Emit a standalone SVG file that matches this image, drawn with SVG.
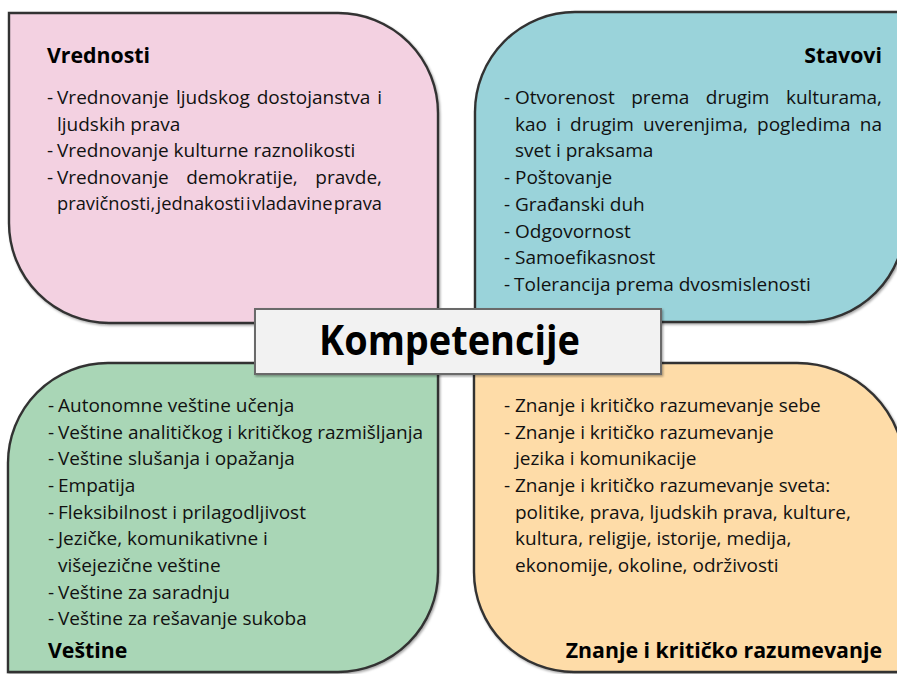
<svg xmlns="http://www.w3.org/2000/svg" width="897" height="674" viewBox="0 0 897 674">
<defs>
<filter id="sh" x="-5%" y="-5%" width="110%" height="110%">
<feDropShadow dx="1.2" dy="1.5" stdDeviation="1" flood-color="#000" flood-opacity="0.35"/>
</filter>
<style>
.box{stroke:#333;stroke-width:2.4;filter:url(#sh)}
.t{font-family:"Open Sans","Noto Sans","DejaVu Sans",sans-serif;font-size:19px;fill:#111}
.h{font-family:"Open Sans","Noto Sans","DejaVu Sans",sans-serif;font-size:21.3px;font-weight:bold;fill:#000}
.r{text-anchor:end}
</style>
</defs>
<rect width="897" height="674" fill="#fff"/>

<g id="node-vrednosti">
<path class="box" fill="#f3d1e1" d="M9 13 H338 A100 100 0 0 1 438 113 V323 H109 A100 100 0 0 1 9 223 Z"/>
<text class="h" x="47" y="63">Vrednosti</text>
<text class="t" x="47" y="104">-</text><text class="t" x="57" y="104" word-spacing="2" textLength="325">Vrednovanje ljudskog dostojanstva i</text>
<text class="t" x="57" y="130.5">ljudskih prava</text>
<text class="t" x="47" y="157">-</text><text class="t" x="57" y="157">Vrednovanje kulturne raznolikosti</text>
<text class="t" x="47" y="183.5">-</text><text class="t" x="57" y="183.5" word-spacing="12.7" textLength="325">Vrednovanje demokratije, pravde,</text>
<text class="t" x="57" y="210" textLength="325" lengthAdjust="spacingAndGlyphs" word-spacing="-3.5">pravičnosti, jednakosti i vladavine prava</text>
</g>

<g id="node-stavovi">
<path class="box" fill="#9ad3da" d="M475 322 V112 A100 100 0 0 1 575 12 H905 V222 A100 100 0 0 1 805 322 Z"/>
<text class="h r" x="882" y="63">Stavovi</text>
<text class="t" x="504" y="104">-</text><text class="t" x="515" y="104" word-spacing="11.6" textLength="367">Otvorenost prema drugim kulturama,</text>
<text class="t" x="515" y="131" word-spacing="4.1" textLength="367">kao i drugim uverenjima, pogledima na</text>
<text class="t" x="515" y="157">svet i praksama</text>
<text class="t" x="504" y="184">-</text><text class="t" x="515" y="184">Poštovanje</text>
<text class="t" x="504" y="211">-</text><text class="t" x="515" y="211">Građanski duh</text>
<text class="t" x="504" y="238">-</text><text class="t" x="515" y="238">Odgovornost</text>
<text class="t" x="504" y="264">-</text><text class="t" x="515" y="264">Samoefikasnost</text>
<text class="t" x="504" y="291">-</text><text class="t" x="514" y="291">Tolerancija prema dvosmislenosti</text>
</g>

<g id="node-vestine">
<path class="box" fill="#a9d6b6" d="M8 672 V463 A100 100 0 0 1 108 363 H438 V572 A100 100 0 0 1 338 672 Z"/>
<text class="t" x="48" y="412">-</text><text class="t" x="58" y="412">Autonomne veštine učenja</text>
<text class="t" x="48" y="438.5">-</text><text class="t" x="58" y="438.5">Veštine analitičkog i kritičkog razmišljanja</text>
<text class="t" x="48" y="465">-</text><text class="t" x="58" y="465">Veštine slušanja i opažanja</text>
<text class="t" x="48" y="492">-</text><text class="t" x="58" y="492">Empatija</text>
<text class="t" x="48" y="518.5">-</text><text class="t" x="58" y="518.5">Fleksibilnost i prilagodljivost</text>
<text class="t" x="48" y="545">-</text><text class="t" x="58" y="545">Jezičke, komunikativne i</text>
<text class="t" x="58" y="572">višejezične veštine</text>
<text class="t" x="48" y="598.5">-</text><text class="t" x="58" y="598.5">Veštine za saradnju</text>
<text class="t" x="48" y="625">-</text><text class="t" x="58" y="625">Veštine za rešavanje sukoba</text>
<text class="h" x="48" y="658">Veštine</text>
</g>

<g id="node-znanje">
<path class="box" fill="#fedca8" d="M474 363 H797 A108 108 0 0 1 905 471 V672 H574 A100 100 0 0 1 474 572 Z"/>
<text class="t" x="504" y="412">-</text><text class="t" x="515" y="412">Znanje i kritičko razumevanje sebe</text>
<text class="t" x="504" y="438.5">-</text><text class="t" x="515" y="438.5">Znanje i kritičko razumevanje</text>
<text class="t" x="515" y="465">jezika i komunikacije</text>
<text class="t" x="504" y="492">-</text><text class="t" x="515" y="492">Znanje i kritičko razumevanje sveta:</text>
<text class="t" x="515" y="518.5">politike, prava, ljudskih prava, kulture,</text>
<text class="t" x="515" y="545">kultura, religije, istorije, medija,</text>
<text class="t" x="515" y="571.5">ekonomije, okoline, održivosti</text>
<text class="h r" x="882" y="658">Znanje i kritičko razumevanje</text>
</g>

<g id="node-kompetencije">
<rect x="255" y="309" width="406" height="65" fill="#f2f2f2" stroke="#6a6a6a" stroke-width="2" filter="url(#sh)"/>
<text x="449.5" y="355" text-anchor="middle" font-family="'Open Sans','Noto Sans','DejaVu Sans',sans-serif" font-size="42" font-weight="bold" fill="#000" textLength="261" lengthAdjust="spacingAndGlyphs">Kompetencije</text>
</g>
</svg>
